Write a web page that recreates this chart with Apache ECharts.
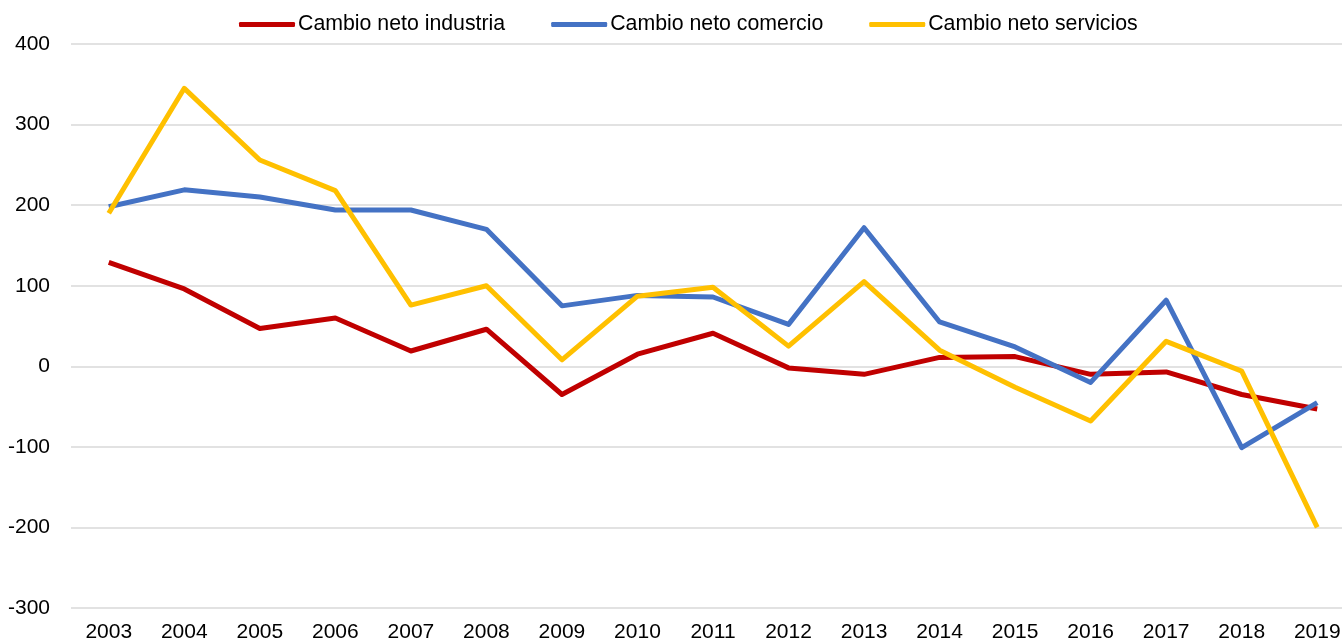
<!DOCTYPE html>
<html>
<head>
<meta charset="utf-8">
<script src="https://cdn.jsdelivr.net/npm/echarts@6/dist/echarts.min.js"></script>
<style>
  html, body { margin: 0; padding: 0; background: #fff; overflow: hidden; }
  #chart { width: 1355px; height: 643px; }
</style>
</head>
<body>
<div id="chart"></div>
<script>
// datos
const years = ['2003', '2004', '2005', '2006', '2007', '2008', '2009', '2010', '2011',
  '2012', '2013', '2014', '2015', '2016', '2017', '2018', '2019'];
const industria = [129, 96, 47, 60, 19, 46, -35, 15, 41, -2, -10, 11, 12, -10, -7, -35, -53];
const comercio = [198, 219, 210, 194, 194, 170, 75, 88, 86, 52, 172, 55, 24, -20, 82, -101, -45];
const servicios = [190, 345, 256, 218, 76, 100, 8, 87, 98, 25, 105, 20, -26, -68, 31, -6, -200];

const font = 'Liberation Sans, Arial, Helvetica, sans-serif';

var myChart = echarts.init(document.getElementById('chart'));

function serie(name, data, color) {
  return {
    name: name,
    type: 'line',
    data: data,
    symbol: 'none',
    lineStyle: { width: 5, color: color, join: 'round' },
    itemStyle: { color: color }
  };
}

// la rejilla se extiende hasta el borde derecho (el div es algo mas ancho que la ventana)
myChart.setOption({
  animation: false,
  backgroundColor: '#fff',
  textStyle: { fontFamily: font },
  legend: {
    top: 9,
    left: 234,
    icon: 'roundRect',
    itemWidth: 56,
    itemHeight: 5,
    itemGap: 46,
    textStyle: { fontSize: 21.3, color: '#000', fontFamily: font, padding: [0, 0, 0, -2] },
    data: ['Cambio neto industria', 'Cambio neto comercio', 'Cambio neto servicios']
  },
  grid: { left: 71, right: 0, top: 44, bottom: 35, containLabel: false },
  xAxis: {
    type: 'category',
    data: years,
    boundaryGap: true,
    axisLine: { show: false },
    axisTick: { show: false },
    axisLabel: { fontSize: 21, color: '#000', margin: 14, fontFamily: font, interval: 0 }
  },
  yAxis: {
    type: 'value',
    min: -300,
    max: 400,
    interval: 100,
    axisLine: { show: false },
    axisTick: { show: false },
    axisLabel: { fontSize: 21, color: '#000', margin: 21, fontFamily: font },
    splitLine: { lineStyle: { color: '#d9d9d9', width: 1.5 } }
  },
  series: [
    serie('Cambio neto industria', industria, '#c00000'),
    serie('Cambio neto comercio', comercio, '#4472c4'),
    serie('Cambio neto servicios', servicios, '#ffc000')
  ]
});
</script>
</body>
</html>
